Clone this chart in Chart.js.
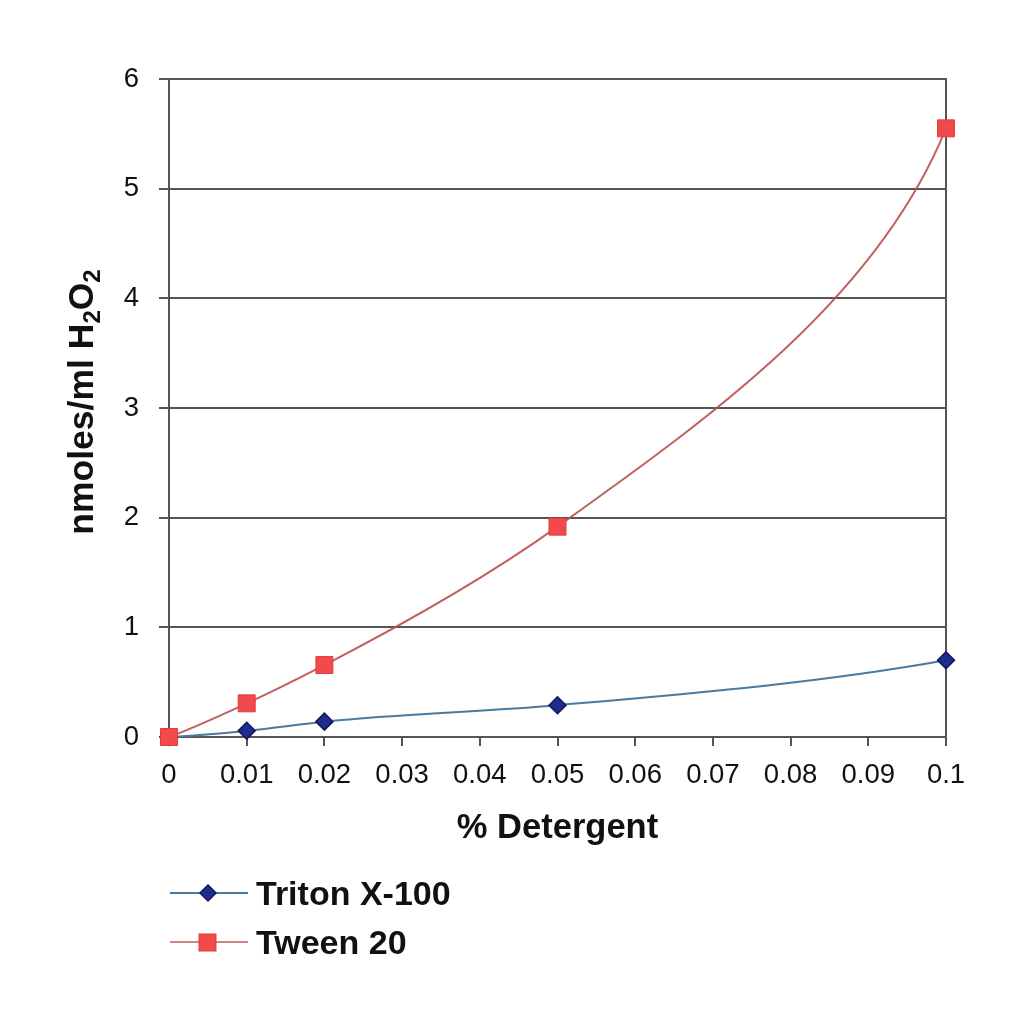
<!DOCTYPE html>
<html>
<head>
<meta charset="utf-8">
<script src="https://cdn.jsdelivr.net/npm/chart.js@4/dist/chart.umd.min.js"></script>
<style>
  html, body { margin: 0; padding: 0; background: #ffffff; }
  #wrap { position: relative; width: 1024px; height: 1024px; }
  canvas { position: absolute; left: 0; top: 0; }
  .leg { position: absolute; left: 168px; font: bold 34px "Liberation Sans", Arial, sans-serif; color: #111; display: flex; align-items: center; height: 40px; }
  .leg svg { margin-right: 8px; }
</style>
</head>
<body>
<div id="wrap">
  <canvas id="c" width="1024" height="1024"></canvas>
  <div class="leg" style="top:873px">
    <svg width="80" height="30"><line x1="2" y1="15" x2="80" y2="15" stroke="#4a7aa0" stroke-width="2"/><polygon points="40,7 48,15 40,23 32,15" fill="#1f2b8e" stroke="#10185a" stroke-width="1.5"/></svg><span>Triton X-100</span>
  </div>
  <div class="leg" style="top:922px">
    <svg width="80" height="30"><line x1="2" y1="15" x2="80" y2="15" stroke="#c0504d" stroke-width="2" stroke-opacity="0.7"/><rect x="31" y="7" width="17" height="17" fill="#f04a4a" stroke="#e03c3c" stroke-width="1"/></svg><span>Tween 20</span>
  </div>
</div>
<script>
const detergentPct = [0, 0.01, 0.02, 0.05, 0.1];
const tritonValues = [0, 0.057, 0.14, 0.29, 0.70];
const tweenValues  = [0, 0.307, 0.656, 1.918, 5.55];
const xTickValues  = [0, 0.01, 0.02, 0.03, 0.04, 0.05, 0.06, 0.07, 0.08, 0.09, 0.1];
const yTickValues  = [0, 1, 2, 3, 4, 5, 6];
const seriesNames  = ['Triton X-100', 'Tween 20'];

const FONT = '"Liberation Sans", Arial, sans-serif';
const AXIS = '#555555';

const pts = vals => detergentPct.map((x, i) => ({ x: x, y: vals[i] }));

// Spreadsheet-style smoothing: control points from neighbouring points (pixel space)
const smoothPlugin = {
  id: 'smooth',
  beforeDatasetDraw(chart, args) {
    const meta = args.meta;
    const line = meta.dataset;
    if (!line) return;
    line.updateControlPoints(chart.chartArea, 'x');
    const P = meta.data;
    const n = P.length;
    if (n < 3) return;
    const ang = new Array(n);
    const dist = (a, b) => Math.hypot(b.x - a.x, b.y - a.y);
    for (let i = 1; i < n - 1; i++) {
      const d1 = dist(P[i - 1], P[i]), d2 = dist(P[i], P[i + 1]);
      const w1 = d2 / (d1 + d2), w2 = d1 / (d1 + d2);
      const tx = w1 * (P[i].x - P[i - 1].x) / d1 + w2 * (P[i + 1].x - P[i].x) / d2;
      const ty = w1 * (P[i].y - P[i - 1].y) / d1 + w2 * (P[i + 1].y - P[i].y) / d2;
      ang[i] = Math.atan2(ty, tx);
    }
    const k = 2.2;
    const a0 = Math.atan2(P[1].y - P[0].y, P[1].x - P[0].x);
    ang[0] = a0 + k * (a0 - ang[1]);
    const an = Math.atan2(P[n - 1].y - P[n - 2].y, P[n - 1].x - P[n - 2].x);
    ang[n - 1] = an + k * (an - ang[n - 2]);
    for (let i = 0; i < n; i++) {
      const c = Math.cos(ang[i]), s = Math.sin(ang[i]);
      const dPrev = i > 0 ? dist(P[i - 1], P[i]) / 3 : 0;
      const dNext = i < n - 1 ? dist(P[i], P[i + 1]) / 3 : 0;
      P[i].cp1x = P[i].x - c * dPrev; P[i].cp1y = P[i].y - s * dPrev;
      P[i].cp2x = P[i].x + c * dNext; P[i].cp2y = P[i].y + s * dNext;
    }
  }
};

const yTitlePlugin = {
  id: 'yTitle',
  afterDraw(chart) {
    const ctx = chart.ctx;
    const parts = [
      { t: 'nmoles/ml H', size: 35.5, dy: 0 },
      { t: '2', size: 24, dy: 10 },
      { t: 'O', size: 35.5, dy: 0 },
      { t: '2', size: 24, dy: 10 }
    ];
    ctx.save();
    let total = 0;
    parts.forEach(p => { ctx.font = 'bold ' + p.size + 'px ' + FONT; p.w = ctx.measureText(p.t).width; total += p.w; });
    ctx.translate(83, 402);
    ctx.rotate(-Math.PI / 2);
    ctx.fillStyle = '#111';
    ctx.textBaseline = 'middle';
    ctx.textAlign = 'left';
    let x = -total / 2;
    parts.forEach(p => {
      ctx.font = 'bold ' + p.size + 'px ' + FONT;
      ctx.fillText(p.t, x, p.dy);
      x += p.w;
    });
    ctx.restore();
  }
};

const rightBorderPlugin = {
  id: 'rightBorder',
  beforeDatasetsDraw(chart) {
    const a = chart.chartArea, ctx = chart.ctx;
    ctx.save();
    ctx.strokeStyle = AXIS;
    ctx.lineWidth = 2;
    ctx.beginPath();
    ctx.moveTo(a.right, a.top - 1);
    ctx.lineTo(a.right, a.bottom + 9);
    ctx.stroke();
    ctx.restore();
  }
};

new Chart(document.getElementById('c'), {
  type: 'line',
  data: {
    datasets: [
      {
        label: seriesNames[0],
        data: pts(tritonValues),
        borderColor: '#4a7aa0',
        borderWidth: 2,
        backgroundColor: '#1f2b8e',
        pointBackgroundColor: '#1f2b8e',
        pointBorderColor: '#10185a',
        pointBorderWidth: 1.5,
        pointStyle: 'rectRot',
        pointRadius: 8.5,
        tension: 0.4,
        clip: false,
        order: 2
      },
      {
        label: seriesNames[1],
        data: pts(tweenValues),
        borderColor: 'rgba(185,80,78,0.9)',
        borderWidth: 2,
        backgroundColor: '#f04a4a',
        pointBackgroundColor: '#f04a4a',
        pointBorderColor: '#e03c3c',
        pointBorderWidth: 1,
        pointStyle: 'rect',
        pointRadius: 12,
        tension: 0.4,
        clip: false,
        order: 1
      }
    ]
  },
  options: {
    responsive: false,
    animation: false,
    events: [],
    layout: { padding: { left: 0, top: 79, right: 78, bottom: 0 } },
    plugins: { legend: { display: false }, tooltip: { enabled: false } },
    scales: {
      x: {
        type: 'linear',
        min: 0,
        max: 0.1,
        afterFit: s => { s.height = 287; },
        afterBuildTicks: s => { s.ticks = xTickValues.map(v => ({ value: v })); },
        grid: { drawOnChartArea: false, drawTicks: true, tickLength: 9, color: AXIS, lineWidth: 2 },
        border: { color: AXIS, width: 2 },
        ticks: { color: '#111', font: { family: FONT, size: 27.5 }, padding: 13, maxRotation: 0, autoSkip: false, callback: v => String(v) },
        title: { display: true, text: '% Detergent', color: '#111', font: { family: FONT, size: 34.5, weight: 'bold' }, padding: { top: 0, bottom: 175 } }
      },
      y: {
        type: 'linear',
        min: 0,
        max: 6,
        afterFit: s => { s.width = 169; },
        afterBuildTicks: s => { s.ticks = yTickValues.map(v => ({ value: v })); },
        grid: { drawOnChartArea: true, drawTicks: true, tickLength: 10, color: AXIS, lineWidth: 2 },
        border: { color: AXIS, width: 2 },
        ticks: { color: '#111', font: { family: FONT, size: 27.5 }, padding: 20, callback: v => String(v) }
      }
    }
  },
  plugins: [smoothPlugin, yTitlePlugin, rightBorderPlugin]
});
</script>
</body>
</html>
